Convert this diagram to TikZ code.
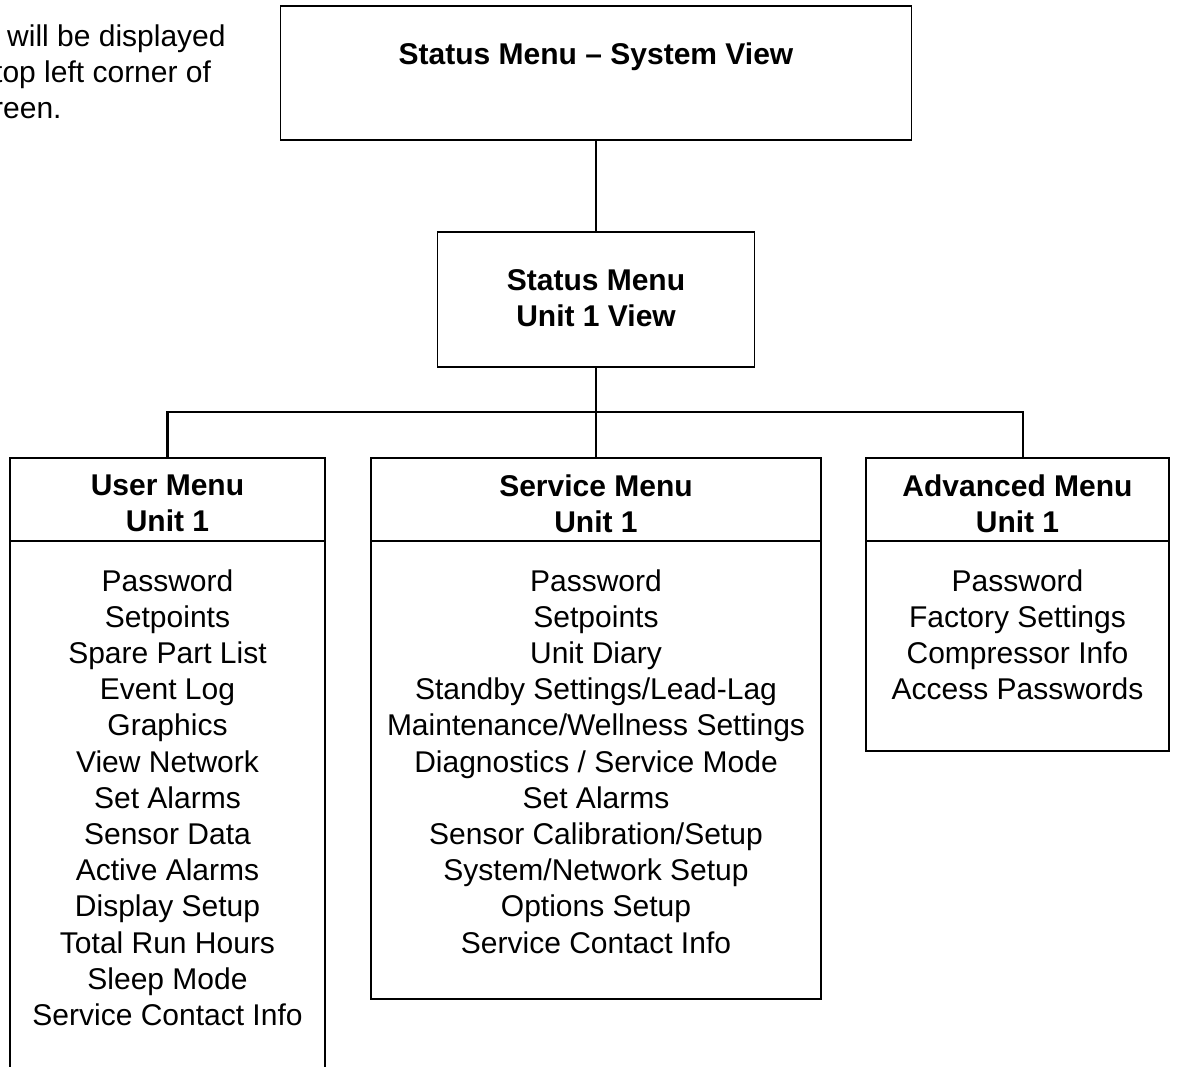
\documentclass[tikz,border=0pt]{standalone}
\usepackage{fontspec}
\setmainfont{Liberation Sans}
\usetikzlibrary{positioning}

\tikzset{
	menubox/.style={draw, line width=1.6pt, inner sep=0pt},
	boxtitle/.style={font=\fontsize{30}{36.2}\selectfont\bfseries, align=center, inner sep=0pt},
	boxitems/.style={font=\fontsize{30}{36.2}\selectfont, align=center, inner sep=0pt},
	notetext/.style={font=\fontsize{30}{36.2}\selectfont, inner sep=0pt, anchor=base west},
	link/.style={line width=2.2pt},
}

\begin{document}
\begin{tikzpicture}[x=1pt, y=-1pt]
		%%%%% START %%%%%
		\useasboundingbox (0,0) rectangle (1183,1066);
		\clip (0,0) rectangle (1183,1066);
		
		\node[notetext] (note1) at (7,46) {will be displayed};
		\node[notetext] (note2) at (-6,82) {top left corner of};
		\node[notetext] (note3) at (-7,118) {reen.};
		
		\node[menubox, minimum width=631pt, minimum height=134pt] (sysview) at (596,73) {};
		\node[menubox, minimum width=317pt, minimum height=135pt] (unitview) at (596,299.5) {};
		\node[menubox, minimum width=315pt, minimum height=640pt] (usermenu) at (167.5,778) {};
		\node[menubox, minimum width=450pt, minimum height=541pt] (servmenu) at (596,728.5) {};
		\node[menubox, minimum width=303pt, minimum height=293pt] (advmenu) at (1017.5,604.5) {};
		
		\foreach \m in {usermenu, servmenu, advmenu}
			\draw[line width=1.6pt] ([yshift=-84pt]\m.north west) -- ([yshift=-84pt]\m.north east);
		
		\node[boxtitle, below=37pt of sysview.north] (systitle) {Status Menu – System View};
		\node[boxtitle, below=38pt of unitview.north] (unittitle) {Status Menu\\Unit 1 View};
		\node[boxtitle, below=17pt of usermenu.north] (usertitle) {User Menu\\Unit 1};
		\node[boxtitle, below=17pt of servmenu.north] (servtitle) {Service Menu\\Unit 1};
		\node[boxtitle, below=17pt of advmenu.north] (advtitle) {Advanced Menu\\Unit 1};
		
		\node[boxitems, below=112pt of usermenu.north] (useritems) {Password\\Setpoints\\Spare Part List\\Event Log\\Graphics\\View Network\\Set Alarms\\Sensor Data\\Active Alarms\\Display Setup\\Total Run Hours\\Sleep Mode\\Service Contact Info};
		\node[boxitems, below=112pt of servmenu.north] (servitems) {Password\\Setpoints\\Unit Diary\\Standby Settings/Lead-Lag\\Maintenance/Wellness Settings\\Diagnostics / Service Mode\\Set Alarms\\Sensor Calibration/Setup\\System/Network Setup\\Options Setup\\Service Contact Info};
		\node[boxitems, below=112pt of advmenu.north] (advitems) {Password\\Factory Settings\\Compressor Info\\Access Passwords};
		
		\coordinate (bus) at (596,412);
		\draw[link] (sysview.south) -- (unitview.north);
		\draw[link] (unitview.south) -- (bus);
		\draw[link] (usermenu.north) |- (bus) -| ([xshift=5.5pt]advmenu.north);
		\draw[link] (bus) -- (servmenu.north);
		
		%%%%% END %%%%%
\end{tikzpicture}
\end{document}
